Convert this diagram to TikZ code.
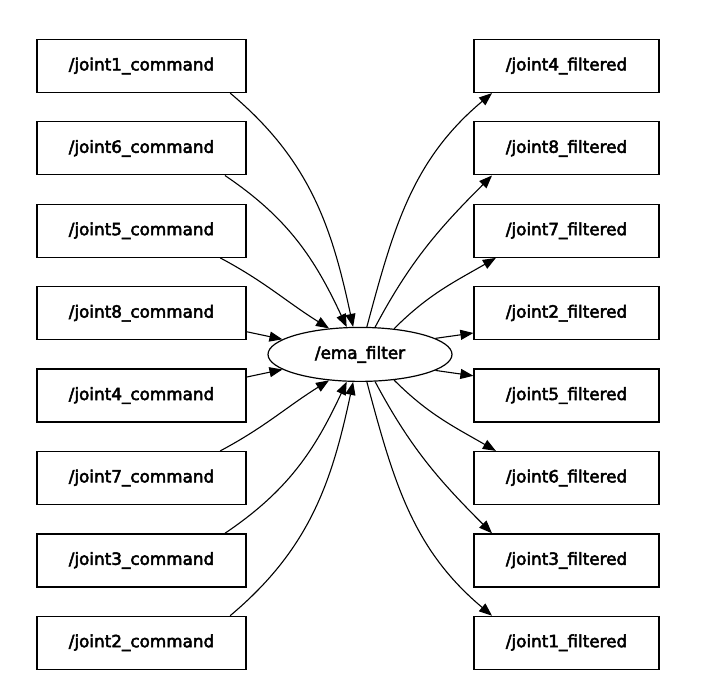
\documentclass[tikz,border=0pt]{standalone}
\usepackage{fontspec}
\setmainfont{DejaVu Sans}
\newfontfamily\topicfont{DejaVu Sans}[FakeBold=3]
\usetikzlibrary{arrows.meta,shapes.geometric}

\begin{document}
\begin{tikzpicture}[x=1pt,y=1pt,
		topic/.style={draw=black, line width=1.2pt, rectangle, minimum height=53pt, inner sep=0pt, font=\topicfont\fontsize{16.8}{20}\selectfont},
		cmdbox/.style={topic, minimum width=209pt},
		filtbox/.style={topic, minimum width=185pt},
		nodeoval/.style={topic, ellipse, minimum width=184pt, minimum height=54pt},
		conn/.style={line width=1.1pt, -{Triangle[length=13pt,width=10pt]}}]
			\useasboundingbox (0,0) rectangle (715,-700);
			% publishers
			\node[cmdbox] (j1c) at (141.5,-66) {/joint1\_command};
			\node[cmdbox] (j6c) at (141.5,-148.4) {/joint6\_command};
			\node[cmdbox] (j5c) at (141.5,-230.8) {/joint5\_command};
			\node[cmdbox] (j8c) at (141.5,-313.2) {/joint8\_command};
			\node[cmdbox] (j4c) at (141.5,-395.6) {/joint4\_command};
			\node[cmdbox] (j7c) at (141.5,-478) {/joint7\_command};
			\node[cmdbox] (j3c) at (141.5,-560.4) {/joint3\_command};
			\node[cmdbox] (j2c) at (141.5,-642.8) {/joint2\_command};
			% filter
			\node[nodeoval] (ema) at (360,-354.4) {/ema\_filter};
			% subscribers
			\node[filtbox] (j4f) at (566.5,-66) {/joint4\_filtered};
			\node[filtbox] (j8f) at (566.5,-148.4) {/joint8\_filtered};
			\node[filtbox] (j7f) at (566.5,-230.8) {/joint7\_filtered};
			\node[filtbox] (j2f) at (566.5,-313.2) {/joint2\_filtered};
			\node[filtbox] (j5f) at (566.5,-395.6) {/joint5\_filtered};
			\node[filtbox] (j6f) at (566.5,-478) {/joint6\_filtered};
			\node[filtbox] (j3f) at (566.5,-560.4) {/joint3\_filtered};
			\node[filtbox] (j1f) at (566.5,-642.8) {/joint1\_filtered};
			% incoming
			\draw[conn] (j1c.-17) to[out=-40,in=102] (ema.104);
			\draw[conn] (j6c.-18) to[out=-34,in=115] (ema.116);
			\draw[conn] (j5c.-19) to[out=-28,in=148] (ema.140);
			\draw[conn] (j8c.-10) -- (ema.169);
			\draw[conn] (j4c.10) -- (ema.191);
			\draw[conn] (j7c.19) to[out=28,in=212] (ema.220);
			\draw[conn] (j3c.18) to[out=34,in=245] (ema.244);
			\draw[conn] (j2c.17) to[out=40,in=258] (ema.256);
			% outgoing
			\draw[conn] (ema.76) to[out=75,in=220] (j4f.200);
			\draw[conn] (ema.61) to[out=62,in=225] (j8f.200);
			\draw[conn] (ema.37) to[out=45,in=210] (j7f.201);
			\draw[conn] (ema.12) -- (j2f.192);
			\draw[conn] (ema.-12) -- (j5f.168);
			\draw[conn] (ema.-37) to[out=-45,in=150] (j6f.159);
			\draw[conn] (ema.-61) to[out=-62,in=135] (j3f.160);
			\draw[conn] (ema.-76) to[out=-75,in=140] (j1f.160);
		\end{tikzpicture}
\end{document}
